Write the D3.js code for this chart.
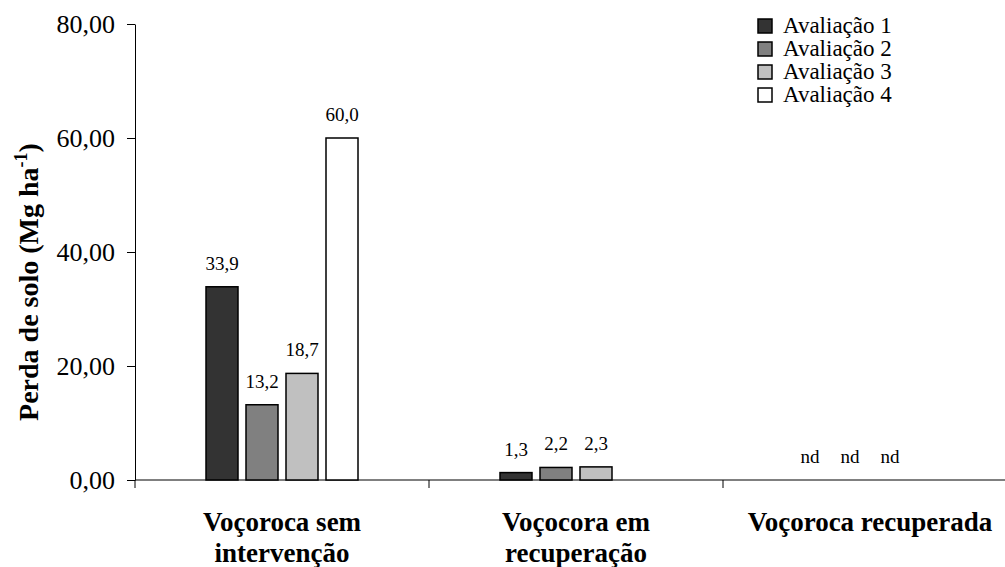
<!DOCTYPE html>
<html>
<head>
<meta charset="utf-8">
<script src="https://cdn.jsdelivr.net/npm/d3@7"></script>
<style>
  body { margin: 0; background: #fff; }
  text { font-family: "Liberation Serif", "Times New Roman", serif; }
</style>
</head>
<body>
<div id="chart"></div>
<script>
// categories (two-line labels) and series values; 'nd' = not determined
const categories = [
  ['Voçoroca sem', 'intervenção'],
  ['Voçocora em', 'recuperação'],
  ['Voçoroca recuperada']
];
const seriesNames = ['Avaliação 1', 'Avaliação 2', 'Avaliação 3', 'Avaliação 4'];
const aval1 = [33.9, 1.3, 'nd'];
const aval2 = [13.2, 2.2, 'nd'];
const aval3 = [18.7, 2.3, 'nd'];
const aval4 = [60.0, null, null];
const yTicks = [0, 20, 40, 60, 80];

const seriesValues = [aval1, aval2, aval3, aval4];
const seriesColors = ['#333333', '#808080', '#c0c0c0', '#ffffff'];

const FONT = '"Liberation Serif", "Times New Roman", serif';
const width = 1005;
const height = 567;
const axisX = 135;
const yTop = 24;
const yBase = 480;
const bandW = 294;

const fmtComma = (d, n) => d.toFixed(n).replace('.', ',');

const svg = d3.select('#chart')
  .append('svg')
    .attr('width', width)
    .attr('height', height)
    .attr('font-family', FONT);

const catIdx = categories.map((c, i) => i);
const x0 = d3.scaleBand().domain(catIdx).range([axisX, axisX + bandW * categories.length]);
const x1 = d3.scaleBand().domain(d3.range(seriesNames.length))
  .range([bandW / 2 - 80, bandW / 2 + 80])
  .paddingInner(0.2)
  .paddingOuter(0.1);
const y = d3.scaleLinear().domain([0, 80]).range([yBase, yTop]);

// y axis
const yAxis = svg.append('g')
  .attr('transform', `translate(${axisX},0)`)
  .call(d3.axisLeft(y)
    .tickValues(yTicks)
    .tickFormat(d => fmtComma(d, 2))
    .tickSize(8)
    .tickSizeOuter(0)
    .tickPadding(12));
yAxis.attr('font-family', FONT).attr('font-size', 26);
yAxis.select('.domain').attr('stroke', '#000');
yAxis.selectAll('.tick line').attr('stroke', '#000');
yAxis.selectAll('.tick text').attr('fill', '#000');

// x axis line and category ticks
svg.append('line')
  .attr('x1', axisX).attr('x2', width)
  .attr('y1', yBase).attr('y2', yBase)
  .attr('stroke', '#000');
svg.append('g')
  .selectAll('line')
  .data(catIdx)
  .enter()
  .append('line')
    .attr('x1', d => x0(d)).attr('x2', d => x0(d))
    .attr('y1', yBase).attr('y2', yBase + 8)
    .attr('stroke', '#000');

// bars and value labels
const groups = svg.append('g')
  .selectAll('g')
  .data(catIdx)
  .enter()
  .append('g')
    .attr('transform', d => `translate(${x0(d)},0)`);

const cells = groups.selectAll('g')
  .data(ci => seriesValues.map((vals, si) => ({ si, v: vals[ci] })))
  .enter()
  .append('g');

cells.filter(d => typeof d.v === 'number')
  .append('rect')
    .attr('x', d => x1(d.si))
    .attr('y', d => y(d.v))
    .attr('width', x1.bandwidth())
    .attr('height', d => yBase - y(d.v))
    .attr('fill', d => seriesColors[d.si])
    .attr('stroke', '#000')
    .attr('stroke-width', 1.5);

cells.filter(d => d.v !== null)
  .append('text')
    .attr('x', d => x1(d.si) + x1.bandwidth() / 2)
    .attr('y', d => y(typeof d.v === 'number' ? d.v : 0) - 17)
    .attr('text-anchor', 'middle')
    .attr('font-size', 19)
    .text(d => (typeof d.v === 'number' ? fmtComma(d.v, 1) : d.v));

// category labels
svg.append('g')
  .selectAll('text')
  .data(catIdx)
  .enter()
  .append('text')
    .attr('x', d => x0(d) + bandW / 2)
    .attr('y', 531)
    .attr('text-anchor', 'middle')
    .attr('font-size', 27)
    .attr('font-weight', 'bold')
    .each(function (d) {
      d3.select(this).selectAll('tspan')
        .data(categories[d])
        .enter()
        .append('tspan')
          .attr('x', x0(d) + bandW / 2)
          .attr('dy', (t, i) => (i === 0 ? 0 : 31))
          .text(t => t);
    });

// y axis title
const yTitle = svg.append('text')
  .attr('transform', 'translate(38,282) rotate(-90)')
  .attr('text-anchor', 'middle')
  .attr('font-size', 28)
  .attr('font-weight', 'bold');
yTitle.append('tspan').text('Perda de solo (Mg ha');
yTitle.append('tspan').attr('dy', -11).attr('font-size', 18).text('-1');
yTitle.append('tspan').attr('dy', 11).text(')');

// legend
const legend = svg.append('g')
  .attr('transform', 'translate(758,19)')
  .selectAll('g')
  .data(seriesNames)
  .enter()
  .append('g')
    .attr('transform', (d, i) => `translate(0,${i * 23})`);
legend.append('rect')
  .attr('width', 14).attr('height', 14)
  .attr('fill', (d, i) => seriesColors[i])
  .attr('stroke', '#000')
  .attr('stroke-width', 1.5);
legend.append('text')
  .attr('x', 25)
  .attr('y', 14)
  .attr('font-size', 23)
  .text(d => d);
</script>
</body>
</html>
